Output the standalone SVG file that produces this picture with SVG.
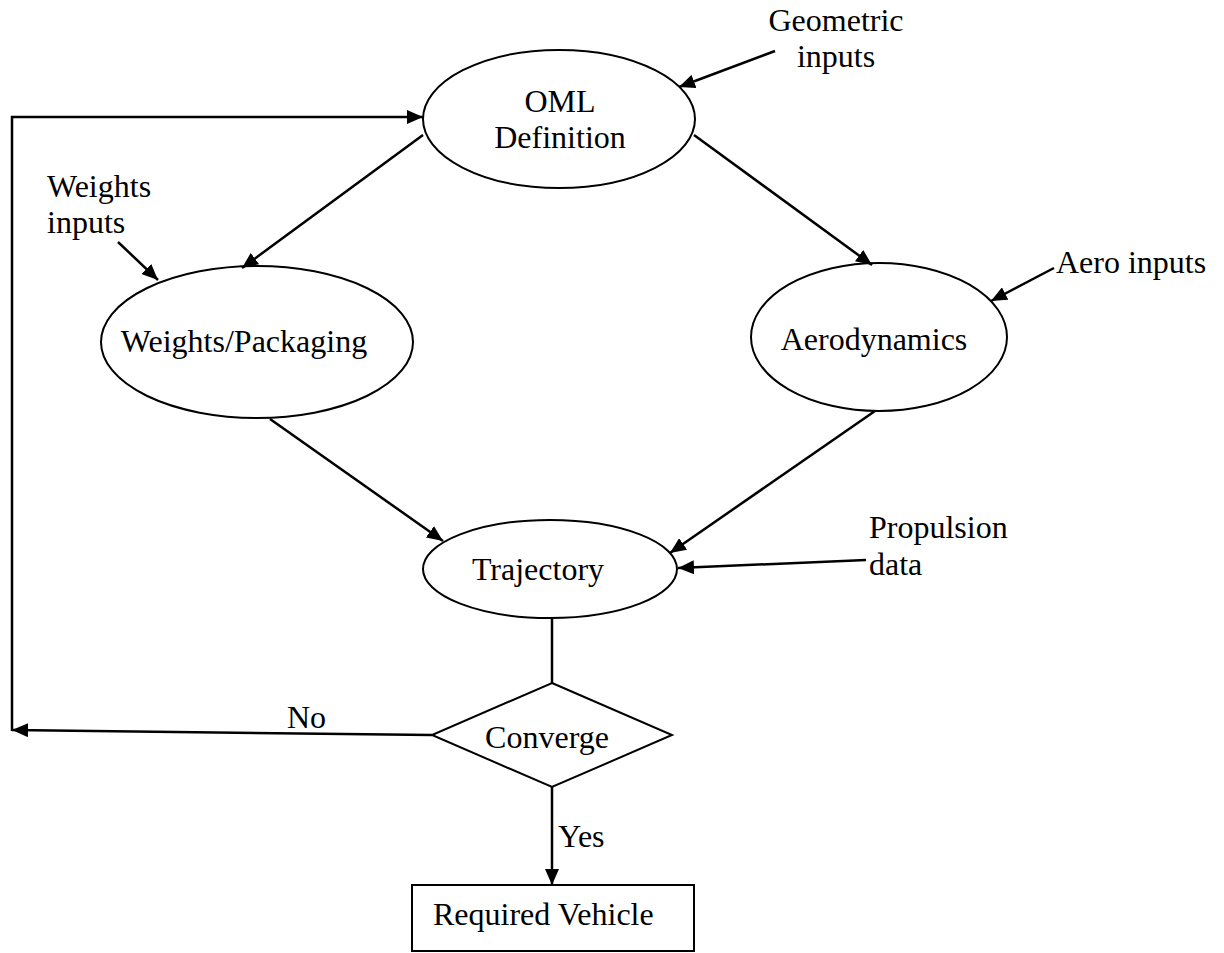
<svg xmlns="http://www.w3.org/2000/svg" width="1224" height="953" viewBox="0 0 1224 953">
<style>
.n{fill:#fff;stroke:#000;stroke-width:2}
.c{fill:none;stroke:#000;stroke-width:2.5}
text{font-family:"Liberation Serif","Times New Roman",serif;font-size:32px;fill:#000}
.m{text-anchor:middle}
</style>
<defs>
<marker id="ah" viewBox="0 0 16 14" refX="16" refY="7" markerWidth="16" markerHeight="14" markerUnits="userSpaceOnUse" orient="auto">
<path d="M0,0 L16,7 L0,14 Z" fill="#000"/>
</marker>
</defs>
<rect width="1224" height="953" fill="#fff"/>
<g id="oml">
<ellipse class="n" cx="559" cy="119" rx="136" ry="69"/>
<text class="m" x="560" y="112">OML</text>
<text class="m" x="560" y="148">Definition</text>
</g>
<g id="geometric-inputs">
<text class="m" x="836" y="31">Geometric</text>
<text class="m" x="836" y="67">inputs</text>
</g>
<g id="weights-inputs">
<text x="47" y="197">Weights</text>
<text x="47" y="233">inputs</text>
</g>
<g id="weights">
<ellipse class="n" cx="257" cy="342" rx="156" ry="76"/>
<text class="m" x="244" y="352">Weights/Packaging</text>
</g>
<g id="aero-inputs">
<text x="1056" y="273">Aero inputs</text>
</g>
<g id="aero">
<ellipse class="n" cx="879" cy="337" rx="128" ry="74"/>
<text class="m" x="874" y="350">Aerodynamics</text>
</g>
<g id="propulsion-data">
<text x="869" y="538">Propulsion</text>
<text x="869" y="575">data</text>
</g>
<g id="trajectory">
<ellipse class="n" cx="550" cy="569" rx="127" ry="49"/>
<text class="m" x="538" y="580">Trajectory</text>
</g>
<g id="converge">
<polygon class="n" points="552,683 672,735 552,787 432,735"/>
<text class="m" x="547" y="748">Converge</text>
</g>
<g id="required-vehicle">
<rect class="n" x="412" y="885" width="282" height="66"/>
<text x="433" y="925">Required Vehicle</text>
</g>
<g id="connectors">
<line class="c" x1="775" y1="51" x2="679" y2="87" marker-end="url(#ah)"/>
<line class="c" x1="118" y1="242" x2="158" y2="280" marker-end="url(#ah)"/>
<line class="c" x1="423" y1="135" x2="242" y2="268" marker-end="url(#ah)"/>
<line class="c" x1="694" y1="135" x2="872" y2="265" marker-end="url(#ah)"/>
<line class="c" x1="1054" y1="268" x2="991" y2="301" marker-end="url(#ah)"/>
<line class="c" x1="270" y1="419" x2="443" y2="541" marker-end="url(#ah)"/>
<line class="c" x1="875" y1="411" x2="670" y2="553" marker-end="url(#ah)"/>
<line class="c" x1="866" y1="560" x2="678" y2="568" marker-end="url(#ah)"/>
<line class="c" x1="552" y1="618" x2="552" y2="683"/>
<line class="c" x1="432" y1="735" x2="12" y2="730" marker-end="url(#ah)"/>
<polyline class="c" points="12,731 12,117 423,117" marker-end="url(#ah)"/>
<line class="c" x1="552" y1="787" x2="552" y2="885" marker-end="url(#ah)"/>
<text x="287" y="728">No</text>
<text x="558" y="847">Yes</text>
</g>
</svg>
